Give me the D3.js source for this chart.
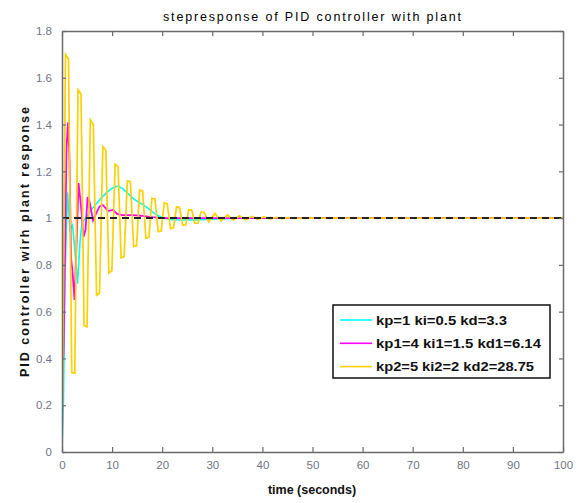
<!DOCTYPE html>
<html><head><meta charset="utf-8">
<script src="https://cdn.jsdelivr.net/npm/d3@7"></script>
<style>body{margin:0;background:#fff;} svg{display:block;font-family:"Liberation Sans",Arial,sans-serif;}</style>
</head><body><svg id="c" width="586" height="503"></svg>
<script>
// ---- data ----
const xTicks = [0,10,20,30,40,50,60,70,80,90,100];
const yTicks = [0,0.2,0.4,0.6,0.8,1,1.2,1.4,1.6,1.8];
const yTickLabels = ["0","0.2","0.4","0.6","0.8","1","1.2","1.4","1.6","1.8"];
const seriesNames = ["kp=1 ki=0.5 kd=3.3","kp1=4 ki1=1.5  kd1=6.14","kp2=5 ki2=2 kd2=28.75"];
const seriesColors = ["#00ffff","#ff00ff","#ffd000"];

// cyan: kp=1 ki=0.5 kd=3.3
const cyanT = [0,0.3,0.6,1.1,1.6,2.1,2.5,3.1,3.6,4.0,5,6,7,8,9,10,11,12,13,14,15,16,17,18,19,20,22,26,30,35,100];
const cyanV = [0,0.24,0.75,1.11,0.95,0.97,0.88,0.72,0.9,0.98,1.01,1.04,1.065,1.09,1.11,1.128,1.137,1.128,1.108,1.088,1.072,1.06,1.045,1.028,1.012,1.003,0.993,0.992,0.995,1.0,1.0];

// magenta: kp1=4 ki1=1.5 kd1=6.14
const magT = [0,0.1,0.3,0.6,0.9,1.2,1.5,1.8,2.1,2.5,2.9,3.3,3.8,4.3,4.7,5.1,5.5,6.2,6.8,7.5,8.2,9.2,10.2,11,12,14,16,18,20,100];
const magV = [0,0.39,0.42,0.85,1.3,1.41,1.25,0.83,0.77,0.65,0.89,1.15,1.05,0.92,0.95,1.09,1.07,0.99,1.02,1.05,1.055,1.03,1.035,1.018,1.013,1.013,1.01,1.004,1.0,1.0];

// yellow: kp2=5 ki2=2 kd2=28.75 (flat-topped peaks / troughs as sampled in the picture)
const yelT = [0,0.7,1.3,1.95,2.55,3.2,3.8,4.4,5.0,5.65,6.25,6.9,7.5,8.15,8.75,9.35,9.95,10.6,11.2,11.8,12.4,13.05,13.65,14.3,14.9,15.5,16.1,16.75,17.35,17.95,18.55,19.2,19.8,20.4,21.0,21.65,22.25,22.85,23.45,24.1,24.7,25.3,25.9,26.55,27.15,27.75,28.35,29.3,30.5,31.75,33,34.2,35.4,36.65,37.9,39.1,40.3,41.55,42.8,44,45.2,46.5,50,100];
const yelV = [0,1.70,1.68,0.34,0.337,1.548,1.53,0.54,0.535,1.42,1.40,0.67,0.68,1.305,1.29,0.765,0.775,1.23,1.22,0.83,0.835,1.16,1.155,0.878,0.882,1.12,1.115,0.914,0.918,1.085,1.082,0.942,0.945,1.065,1.062,0.956,0.958,1.048,1.046,0.97,0.971,1.035,1.034,0.978,0.979,1.026,1.025,0.984,1.02,0.988,1.014,0.991,1.01,0.993,1.007,0.995,1.005,0.997,1.003,0.998,1.002,0.999,1.0,1.0];

const refT = [0,100];
const refV = [1,1];

// ---- drawing ----
const svg = d3.select("#c");
const L=62,R=563,T=31,B=452;
const x = d3.scaleLinear().domain([0,100]).range([L,R]);
const y = d3.scaleLinear().domain([0,1.8]).range([B,T]);
const axisCol = "#6b6b6b", labCol = "#6f7584";

const plot = svg.append("g");
plot.append("clipPath").attr("id","clip").append("rect").attr("x",L).attr("y",T).attr("width",R-L).attr("height",B-T);

const line = d3.line().x(d=>x(d[0])).y(d=>y(d[1]));
function pts(ts,vs){return ts.map((t,i)=>[t,vs[i]]);}
const g = plot.append("g").attr("clip-path","url(#clip)");
g.append("path").datum(pts(cyanT,cyanV)).attr("d",line).attr("fill","none").attr("stroke",seriesColors[0]).attr("stroke-width",1.6);
g.append("path").datum(pts(magT,magV)).attr("d",line).attr("fill","none").attr("stroke",seriesColors[1]).attr("stroke-width",1.8);
g.append("path").datum(pts(yelT,yelV)).attr("d",line).attr("fill","none").attr("stroke",seriesColors[2]).attr("stroke-width",1.7);
g.append("path").datum(pts(refT,refV)).attr("d",line).attr("fill","none").attr("stroke","#222").attr("stroke-width",2).attr("stroke-dasharray","7,5");

// axes with inward ticks, box
const tl = 5;
const xb = svg.append("g").attr("transform",`translate(0,${B})`).call(d3.axisBottom(x).tickValues(xTicks).tickSizeInner(-tl).tickSizeOuter(0).tickFormat(d=>d).tickPadding(9));
const xt = svg.append("g").attr("transform",`translate(0,${T})`).call(d3.axisTop(x).tickValues(xTicks).tickSizeInner(-tl).tickSizeOuter(0).tickFormat(""));
const yl = svg.append("g").attr("transform",`translate(${L},0)`).call(d3.axisLeft(y).tickValues(yTicks).tickSizeInner(-4).tickSizeOuter(0).tickFormat((d,i)=>yTickLabels[i]).tickPadding(10));
const yr = svg.append("g").attr("transform",`translate(${R},0)`).call(d3.axisRight(y).tickValues(yTicks).tickSizeInner(-4).tickSizeOuter(0).tickFormat(""));
[xb,xt,yl,yr].forEach(a=>{
  a.select(".domain").attr("stroke",axisCol).attr("stroke-width",1.5);
  a.selectAll(".tick line").attr("stroke",axisCol).attr("stroke-width",1.2);
  a.selectAll("text").attr("fill",labCol).attr("font-size",11.5).attr("font-family","Liberation Sans, Arial, sans-serif");
});

// title and axis labels
svg.append("text").attr("x",312).attr("y",21).attr("text-anchor","middle").attr("font-size",12.5).attr("fill","#000")
  .attr("textLength",298).attr("lengthAdjust","spacing").text("stepresponse of PID controller with plant");
svg.append("text").attr("x",312).attr("y",494).attr("text-anchor","middle").attr("font-size",12.5).attr("font-weight","bold").attr("fill","#111").text("time (seconds)");
svg.append("text").attr("transform","translate(29,242) rotate(-90)").attr("text-anchor","middle").attr("font-size",12.5).attr("font-weight","bold").attr("fill","#111")
  .attr("textLength",270).attr("lengthAdjust","spacing").text("PID controller wirh plant response");

// legend
const legendWidths = [131,165,158];
const lg = svg.append("g");
lg.append("rect").attr("x",333).attr("y",305).attr("width",217).attr("height",73).attr("fill","#fff").attr("stroke","#111").attr("stroke-width",1.5);
seriesNames.forEach((n,i)=>{
  const yy = 320 + i*23.3;
  lg.append("line").attr("x1",340).attr("x2",372).attr("y1",yy).attr("y2",yy).attr("stroke",seriesColors[i]).attr("stroke-width",1.6);
  lg.append("text").attr("x",376).attr("y",yy+4.5).attr("font-size",12.5).attr("fill","#111").attr("font-weight","bold")
    .attr("textLength",legendWidths[i]).attr("lengthAdjust","spacingAndGlyphs").text(n);
});
</script></body></html>
